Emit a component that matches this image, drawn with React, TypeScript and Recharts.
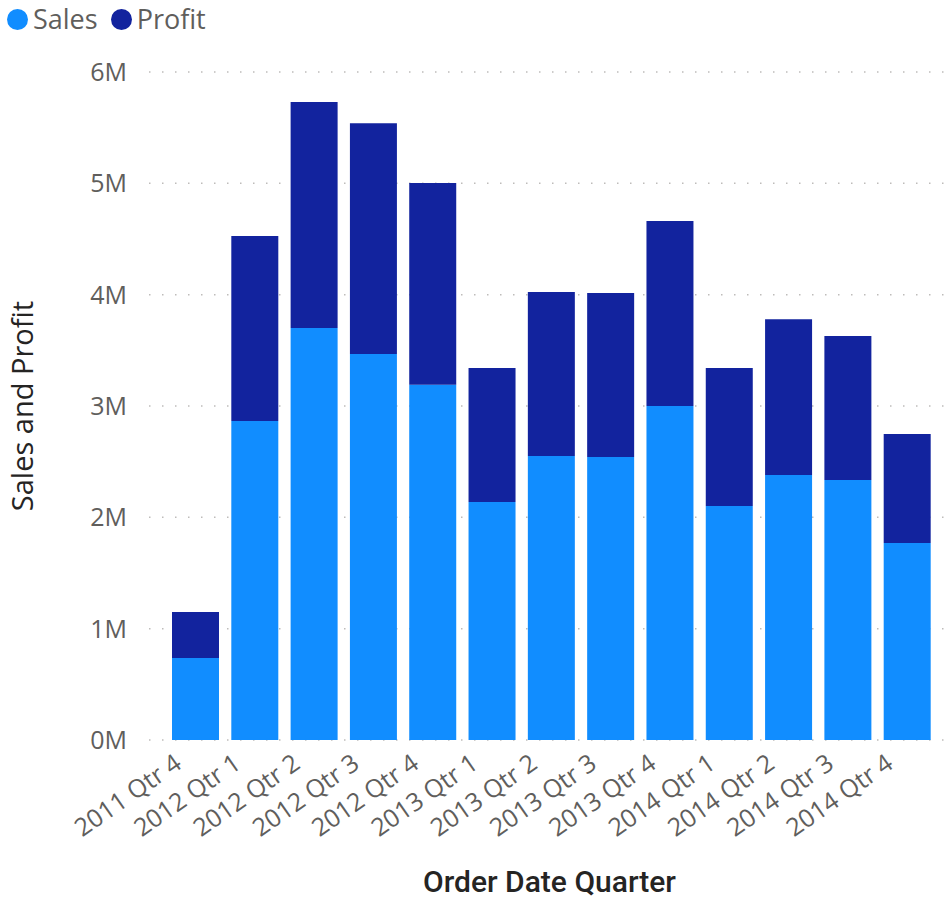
import React from 'react';
import { BarChart, Bar, XAxis, YAxis, CartesianGrid, Label } from 'recharts';

// Quarter categories along the x axis
const quarters = [
  '2011 Qtr 4',
  '2012 Qtr 1', '2012 Qtr 2', '2012 Qtr 3', '2012 Qtr 4',
  '2013 Qtr 1', '2013 Qtr 2', '2013 Qtr 3', '2013 Qtr 4',
  '2014 Qtr 1', '2014 Qtr 2', '2014 Qtr 3', '2014 Qtr 4',
];

// Values in millions
const salesValues = [0.737, 2.865, 3.70, 3.467, 3.19, 2.138, 2.551, 2.542, 3.0, 2.102, 2.38, 2.335, 1.769];
const profitValues = [0.413, 1.662, 2.03, 2.073, 1.813, 1.203, 1.473, 1.473, 1.662, 1.239, 1.40, 1.294, 0.979];

const yTicks = [0, 1, 2, 3, 4, 5, 6];

const series = [
  { key: 'sales', name: 'Sales', color: '#118DFF' },
  { key: 'profit', name: 'Profit', color: '#12239E' },
];

const data = quarters.map((q, i) => ({
  quarter: q,
  sales: salesValues[i] * 1e6,
  profit: profitValues[i] * 1e6,
}));

const TICK_FONT = '"Open Sans", sans-serif';

function QuarterTick(props: any) {
  const { x, y, payload } = props;
  const ax = x - 12.5;
  const ay = y + 27;
  return (
    <text
      x={ax}
      y={ay}
      transform={`rotate(-35, ${ax}, ${ay})`}
      textAnchor="end"
      fill="#605E5C"
      fontFamily={TICK_FONT}
      fontSize={25}
    >
      {payload.value}
    </text>
  );
}

function YTitle(props: any) {
  const { viewBox } = props;
  const cx = viewBox.x + 33;
  const cy = viewBox.y + viewBox.height / 2;
  return (
    <text
      x={cx}
      y={cy}
      transform={`rotate(-90, ${cx}, ${cy})`}
      textAnchor="middle"
      fill="#252423"
      fontFamily={TICK_FONT}
      fontSize={29}
    >
      Sales and Profit
    </text>
  );
}

function XTitle(props: any) {
  const { viewBox } = props;
  return (
    <text
      x={viewBox.x + viewBox.width / 2}
      y={892}
      textAnchor="middle"
      fill="#252423"
      fontFamily="Roboto, sans-serif"
      fontWeight={500}
      fontSize={30}
    >
      Order Date Quarter
    </text>
  );
}

function ChartLegend() {
  return (
    <div
      style={{
        position: 'absolute',
        left: 7,
        top: 0,
        height: 38,
        display: 'flex',
        alignItems: 'center',
        fontFamily: TICK_FONT,
        fontSize: 27,
        color: '#605E5C',
        lineHeight: '38px',
      }}
    >
      {series.map((s) => (
        <div key={s.key} style={{ display: 'flex', alignItems: 'center', marginRight: 13 }}>
          <span
            style={{
              width: 21,
              height: 21,
              borderRadius: '50%',
              background: s.color,
              display: 'inline-block',
              marginRight: 5,
            }}
          />
          <span>{s.name}</span>
        </div>
      ))}
    </div>
  );
}

export default function App() {
  return (
    <div style={{ position: 'absolute', left: 0, top: 0, width: 950, height: 899, background: '#fff' }}>
      <ChartLegend />
      <BarChart
        width={950}
        height={899}
        data={data}
        margin={{ top: 72, right: 0, left: 0, bottom: 0 }}
      >
        <CartesianGrid
          vertical={false}
          stroke="#BEBCBA"
          strokeWidth={1.5}
          strokeDasharray="1.5 11.5"
        />
        <XAxis
          dataKey="quarter"
          height={159}
          interval={0}
          axisLine={false}
          tickLine={false}
          tickSize={0}
          tickMargin={0}
          padding={{ left: 17, right: 13 }}
          tick={<QuarterTick />}
        >
          <Label content={<XTitle />} />
        </XAxis>
        <YAxis
          width={149}
          domain={[0, 6e6]}
          ticks={yTicks.map((t) => t * 1e6)}
          tickFormatter={(v: number) => `${v / 1e6}M`}
          axisLine={false}
          tickLine={false}
          tickSize={0}
          tickMargin={22}
          tick={{ fill: '#605E5C', fontFamily: TICK_FONT, fontSize: 25 }}
        >
          <Label content={<YTitle />} />
        </YAxis>
        {series.map((s) => (
          <Bar
            key={s.key}
            dataKey={s.key}
            name={s.name}
            stackId="a"
            fill={s.color}
            barSize={47}
            isAnimationActive={false}
          />
        ))}
      </BarChart>
    </div>
  );
}
